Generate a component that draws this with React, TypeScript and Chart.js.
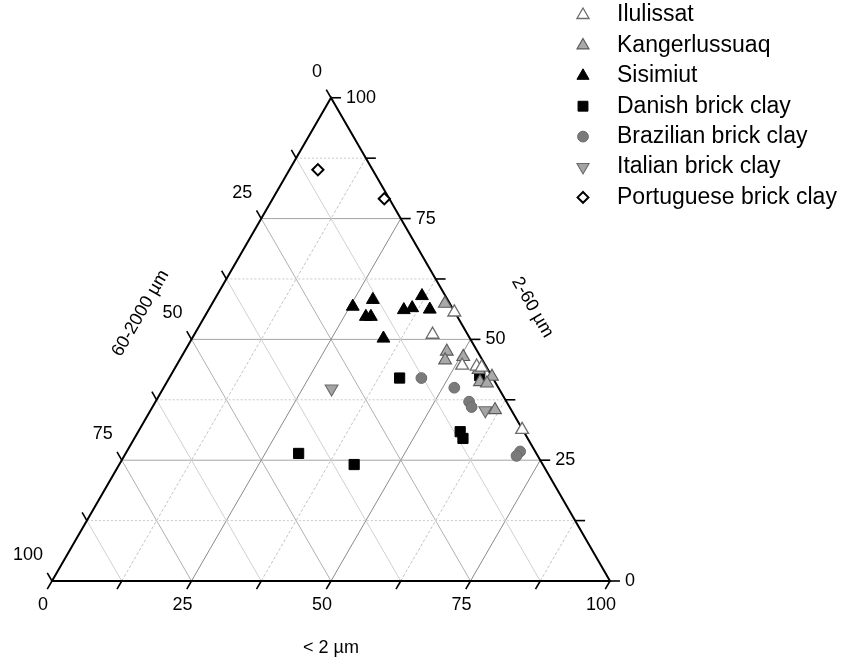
import React, { useEffect, useRef } from 'react';
import { Chart, registerables } from 'chart.js';

Chart.register(...registerables);

// ---- data: [clay < 2 µm %, silt 2-60 µm %]; sand 60-2000 µm = 100 - clay - silt ----
const ilulissat = [[44.3, 55.6], [42.7, 51.0], [51.2, 44.6], [53.9, 44.4], [54.9, 44.2], [68.6, 31.3]];
const kangerlussuaq = [[41.7, 57.4], [47.0, 47.5], [47.6, 45.7], [50.5, 46.4], [54.6, 43.7], [56.1, 41.2], [57.7, 42.3], [57.5, 40.9], [61.7, 35.4]];
const sisimiut = [[25.5, 56.8], [28.4, 58.2], [28.9, 54.7], [29.8, 54.7], [35.0, 56.1], [36.3, 56.5], [36.8, 59.0], [39.6, 56.2], [34.3, 50.2]];
const danish = [[41.3, 42.0], [55.4, 42.5], [57.7, 30.9], [58.9, 29.5], [31.0, 26.4], [42.1, 24.1]];
const brazilian = [[45.2, 42.0], [52.1, 40.0], [56.2, 37.1], [57.2, 36.0], [70.5, 26.8], [70.3, 25.9]];
const italian = [[30.2, 39.8], [60.0, 35.3]];
const portuguese = [[5.1, 85.1], [20.0, 79.1]];

const seriesNames = [
  'Ilulissat',
  'Kangerlussuaq',
  'Sisimiut',
  'Danish brick clay',
  'Brazilian brick clay',
  'Italian brick clay',
  'Portuguese brick clay',
];

const tickLabels = [0, 25, 50, 75, 100];
const majorGrid = [25, 50, 75];
const minorGrid = [12.5, 37.5, 62.5, 87.5];
const allTicks = [0, 12.5, 25, 37.5, 50, 62.5, 75, 87.5, 100];

const axisTitles = { bottom: '< 2 µm', right: '2-60 µm', left: '60-2000 µm' };

// ---- geometry of the page ----
const W = 844;
const H = 661;
const K = 5.58; // px per percent
const X0 = 52;
const Y0 = 581;
const S3 = Math.sqrt(3) / 2;
const FONT = '"Liberation Sans", Arial, Helvetica, sans-serif';

const toXY = (clay: number, silt: number) => ({ x: clay + silt / 2, y: silt * S3 });

type Style = {
  shape: 'triangle' | 'triangleDown' | 'rect' | 'circle' | 'rectRot';
  fill: string;
  stroke: string;
  lw: number;
  r: number;
};

const styles: Style[] = [
  { shape: 'triangle', fill: '#ffffff', stroke: '#6c6c6c', lw: 1.3, r: 7.4 },
  { shape: 'triangle', fill: '#a9a9a9', stroke: '#5a5a5a', lw: 1.1, r: 7.4 },
  { shape: 'triangle', fill: '#000000', stroke: '#000000', lw: 1, r: 7.4 },
  { shape: 'rect', fill: '#000000', stroke: '#000000', lw: 1, r: 7.2 },
  { shape: 'circle', fill: '#7a7a7a', stroke: '#6c6c6c', lw: 1, r: 5.4 },
  { shape: 'triangleDown', fill: '#a4a4a4', stroke: '#6a6a6a', lw: 1.1, r: 7.4 },
  { shape: 'rectRot', fill: '#ffffff', stroke: '#000000', lw: 2, r: 5.6 },
];

function drawShape(ctx: CanvasRenderingContext2D, s: Style, x: number, y: number, r: number) {
  ctx.save();
  ctx.beginPath();
  if (s.shape === 'triangle') {
    ctx.moveTo(x, y - r);
    ctx.lineTo(x + 0.866 * r, y + 0.5 * r);
    ctx.lineTo(x - 0.866 * r, y + 0.5 * r);
    ctx.closePath();
  } else if (s.shape === 'triangleDown') {
    ctx.moveTo(x, y + r);
    ctx.lineTo(x + 0.866 * r, y - 0.5 * r);
    ctx.lineTo(x - 0.866 * r, y - 0.5 * r);
    ctx.closePath();
  } else if (s.shape === 'rect') {
    const h = r * Math.SQRT1_2;
    ctx.rect(x - h, y - h, 2 * h, 2 * h);
  } else if (s.shape === 'circle') {
    ctx.arc(x, y, r, 0, Math.PI * 2);
  } else {
    ctx.moveTo(x - r, y);
    ctx.lineTo(x, y - r);
    ctx.lineTo(x + r, y);
    ctx.lineTo(x, y + r);
    ctx.closePath();
  }
  ctx.fillStyle = s.fill;
  ctx.fill();
  ctx.strokeStyle = s.stroke;
  ctx.lineWidth = s.lw;
  ctx.lineJoin = 'miter';
  ctx.stroke();
  ctx.restore();
}

const seriesData = [ilulissat, kangerlussuaq, sisimiut, danish, brazilian, italian, portuguese];

function lineDs(points: { x: number; y: number }[], color: string, width: number, dash: number[] = [], order = 10) {
  return {
    label: '',
    data: points,
    showLine: true,
    borderColor: color,
    borderWidth: width,
    borderDash: dash,
    pointRadius: 0,
    fill: false,
    tension: 0,
    order,
  } as any;
}

export default function App() {
  const ref = useRef<HTMLCanvasElement | null>(null);

  useEffect(() => {
    if (!ref.current) return;
    const datasets: any[] = [];

    // data series
    seriesData.forEach((arr, i) => {
      const st = styles[i];
      datasets.push({
        label: seriesNames[i],
        data: arr.map(([c, s]) => toXY(c, s)),
        pointStyle: st.shape === 'triangleDown' ? 'triangle' : st.shape,
        rotation: st.shape === 'triangleDown' ? 180 : 0,
        pointRadius: st.r,
        backgroundColor: st.fill,
        borderColor: st.stroke,
        pointBorderWidth: st.lw,
        showLine: false,
        order: i,
      });
    });

    // grid: constant silt (horizontal), constant clay (/), constant sand (\)
    const gridSet = (vals: number[], major: boolean) => {
      vals.forEach((v) => {
        datasets.push(lineDs([toXY(0, v), toXY(100 - v, v)], major ? '#a4a4a4' : '#c8c8c8', 1, major ? [] : [2, 2], 20));
        datasets.push(lineDs([toXY(v, 0), toXY(v, 100 - v)], major ? '#8a8a8a' : '#c4c4c4', 1, major ? [] : [3, 2], 20));
        datasets.push(lineDs([toXY(100 - v, 0), toXY(0, 100 - v)], major ? '#b0b0b0' : '#d0d0d0', 1, [], 20));
      });
    };
    gridSet(minorGrid, false);
    gridSet(majorGrid, true);

    // ticks
    const L = 1.7;
    allTicks.forEach((v) => {
      const b = toXY(v, 0);
      datasets.push(lineDs([b, { x: b.x - L * 0.5, y: b.y - L * S3 }], '#000', 1.6, [], 15));
      const r = toXY(100 - v, v);
      datasets.push(lineDs([r, { x: r.x + L * 1.05, y: r.y }], '#000', 1.6, [], 15));
      const l = toXY(0, 100 - v);
      datasets.push(lineDs([l, { x: l.x - L * 0.5, y: l.y + L * S3 }], '#000', 1.6, [], 15));
    });

    // frame
    datasets.push(lineDs([toXY(0, 0), toXY(100, 0), toXY(0, 100), toXY(0, 0)], '#000', 2, [], 12));

    const labelsPlugin = {
      id: 'ternaryLabels',
      afterDraw(chart: any) {
        const ctx: CanvasRenderingContext2D = chart.ctx;
        const xs = chart.scales.x;
        const ys = chart.scales.y;
        const px = (p: { x: number; y: number }) => ({ x: xs.getPixelForValue(p.x), y: ys.getPixelForValue(p.y) });
        ctx.save();
        ctx.fillStyle = '#000';
        ctx.font = `18px ${FONT}`;
        ctx.textBaseline = 'middle';
        tickLabels.forEach((v) => {
          const b = px(toXY(v, 0));
          ctx.textAlign = 'center';
          ctx.fillText(String(v), b.x - 9, b.y + 24);
          const r = px(toXY(100 - v, v));
          ctx.textAlign = 'left';
          ctx.fillText(String(v), r.x + 15, r.y);
          const l = px(toXY(0, 100 - v));
          ctx.textAlign = 'right';
          ctx.fillText(String(v), l.x - 9, l.y - 26);
        });
        // axis titles
        ctx.textAlign = 'center';
        const bt = px(toXY(50, 0));
        ctx.fillText(axisTitles.bottom, bt.x, bt.y + 67);
        const rt = px(toXY(50, 50));
        ctx.save();
        ctx.translate(rt.x + 62, rt.y - 32);
        ctx.rotate(Math.PI / 3);
        ctx.fillText(axisTitles.right, 0, 0);
        ctx.restore();
        const lt = px(toXY(0, 50));
        ctx.save();
        ctx.translate(lt.x - 51, lt.y - 26);
        ctx.rotate(-Math.PI / 3);
        ctx.fillText(axisTitles.left, 0, 0);
        ctx.restore();

        // legend
        ctx.font = `23px ${FONT}`;
        ctx.textAlign = 'left';
        seriesNames.forEach((name, i) => {
          const y = 14 + i * 30.4;
          const st = styles[i];
          drawShape(ctx, st, 583, y + 1, st.shape === 'circle' ? 5.4 : st.shape === 'rectRot' ? 5.4 : 7);
          ctx.fillStyle = '#000';
          ctx.fillText(name, 617, y + 1);
        });
        ctx.restore();
      },
    };

    const chart = new Chart(ref.current, {
      type: 'scatter',
      data: { datasets },
      options: {
        animation: false,
        responsive: false,
        events: [],
        layout: { padding: 0, autoPadding: false } as any,
        plugins: { legend: { display: false }, tooltip: { enabled: false } },
        scales: {
          x: { type: 'linear', display: false, min: -X0 / K, max: (W - X0) / K },
          y: { type: 'linear', display: false, min: -(H - Y0) / K, max: Y0 / K },
        },
      },
      plugins: [labelsPlugin],
    });
    return () => chart.destroy();
  }, []);

  return (
    <div style={{ position: 'fixed', left: 0, top: 0, width: W, height: H, background: '#fff' }}>
      <canvas ref={ref} width={W} height={H} style={{ width: W, height: H, display: 'block' }} />
    </div>
  );
}
